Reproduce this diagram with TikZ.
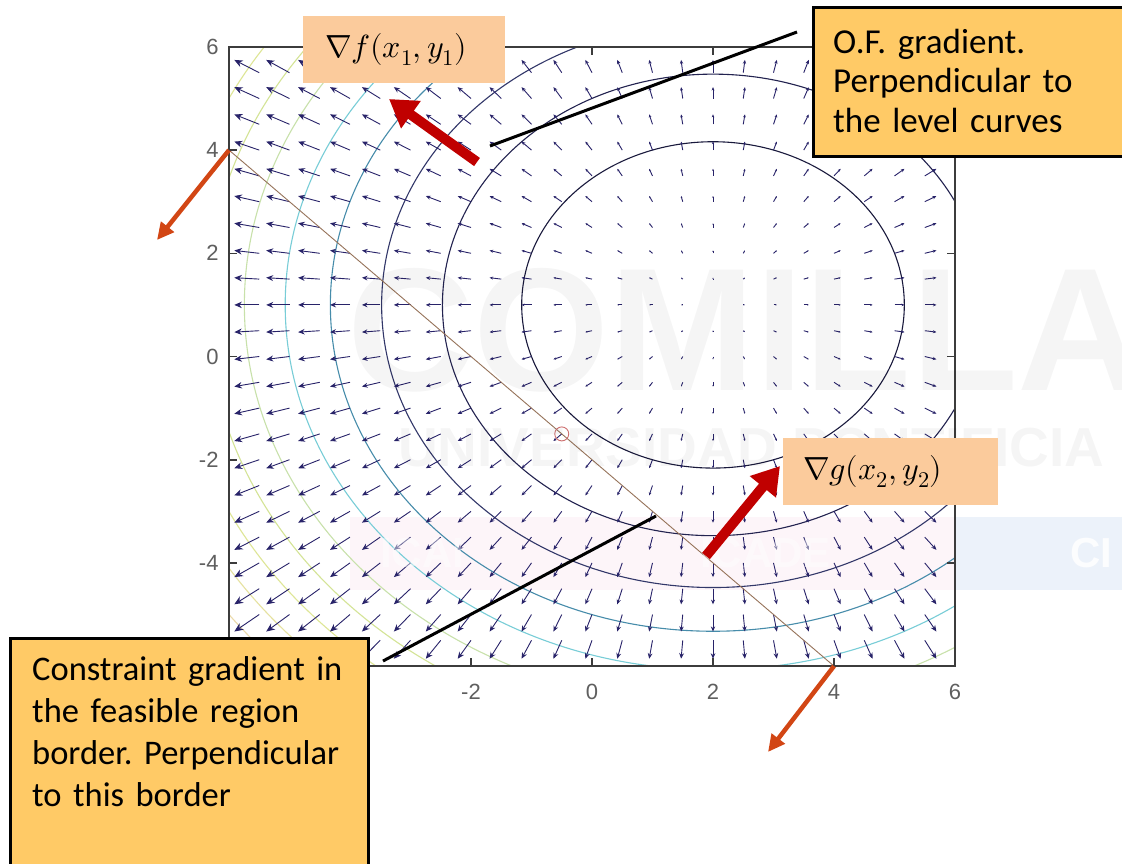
\documentclass[tikz,border=0pt]{standalone}
\usepackage{unicode-math}
\setmainfont{Carlito}
\setmathfont{Latin Modern Math}
\newfontfamily\axisfont{Liberation Sans}
\newfontfamily\wmfont{Liberation Sans}
\usetikzlibrary{arrows.meta}
\frenchspacing
\definecolor{peach}{RGB}{251,203,156}
\definecolor{boxorange}{RGB}{255,202,102}
\definecolor{gradred}{RGB}{192,0,0}
\definecolor{consorange}{RGB}{210,70,20}
\definecolor{quivcol}{RGB}{40,35,105}
\definecolor{axiscol}{RGB}{60,60,60}
\definecolor{tickcol}{RGB}{95,95,95}
\definecolor{linecol}{RGB}{150,115,90}
\definecolor{circcol}{RGB}{205,110,110}
\definecolor{cA}{RGB}{25,25,60}
\definecolor{cB}{RGB}{35,35,80}
\definecolor{cC}{RGB}{50,55,105}
\definecolor{cD}{RGB}{70,140,170}
\definecolor{cE}{RGB}{120,205,215}
\definecolor{cF}{RGB}{200,225,170}
\definecolor{cG}{RGB}{212,228,150}
\definecolor{cH}{RGB}{222,230,150}
\definecolor{cI}{RGB}{230,226,160}
\definecolor{cJ}{RGB}{235,218,170}
\definecolor{cK}{RGB}{240,215,190}
\definecolor{bandblue}{RGB}{236,242,250}
\definecolor{bandpink}{RGB}{253,245,249}
\begin{document}
\begin{tikzpicture}[x=1pt,y=-1pt,
  quiv/.style={draw=quivcol,line width=0.9pt},
  contour/.style={line width=1.1pt},
  axisline/.style={draw=axiscol,line width=1.6pt},
  ticklab/.style={text=tickcol,font=\axisfont\fontsize{22}{26}\selectfont,inner sep=0pt},
  peachbox/.style={fill=peach,draw=none,text width=#1,align=left,inner ysep=0pt,minimum height=67pt,font=\fontsize{32}{38}\selectfont},
  notebox/.style={fill=boxorange,draw=black,line width=3pt,inner sep=0pt},
  notetext/.style={anchor=base west,inner sep=0pt,align=left,text width=#1},
  conn/.style={draw=black,line width=3pt},
  redarrow/.style={draw=gradred,line width=10pt,-{Triangle[length=27pt,width=32pt]}},
  orangearrow/.style={draw=consorange,line width=4.5pt,-{Triangle[length=17pt,width=16pt]}},
  wm/.style={inner sep=0pt,anchor=base west}
]
\clip (0,0) rectangle (1122,863);
\fill[white] (0,0) rectangle (1122,863);

% faint watermark bands
\fill[bandpink] (350,517) rectangle (955,590);
\fill[bandblue] (955,517) rectangle (1122,590);

% ---------- plot ----------
\begin{scope}[shift={(592,356.5)},x=60.5pt,y=51.6pt]
  \begin{scope}
    \clip (-6,-6) rectangle (6,6);
    \foreach \lev/\col in {10/cA,20/cB,30/cC,40/cD,50/cE,60/cF,70/cG,80/cH,90/cI,100/cJ,110/cK}{
      \draw[contour,draw=\col] (2,1) circle [radius={sqrt(\lev)}];
    }
    \foreach \i in {-11,...,11}{
      \foreach \j in {-11,...,11}{
        \pgfmathsetmacro\xx{\i/2}
        \pgfmathsetmacro\yy{\j/2}
        \pgfmathsetmacro\dx{0.055*(\xx-2)}
        \pgfmathsetmacro\dy{0.055*(\yy-1)}
        \pgfmathsetmacro\L{sqrt((60.5*\dx)^2+(51.6*\dy)^2)}
        \pgfmathsetmacro\H{max(1.4,0.3*\L)}
        \pgfmathsetmacro\W{0.85*\H}
        \ifdim \L pt > 0.5pt
          \draw[quiv,-{Stealth[length=\H pt,width=\W pt]}] (\xx,\yy) -- ++(\dx,\dy);
        \fi
      }
    }
  \end{scope}
  % constraint border and optimum
  \coordinate (cl1) at (-6,4);
  \coordinate (cl2) at (4,-6);
  \draw[draw=linecol,line width=0.9pt] (cl1) -- (cl2);
  \draw[draw=circcol,line width=0.9pt] (-0.5,-1.5) circle [radius=7pt];
  % axes box
  \draw[axisline] (-6,-6) rectangle (6,6);
  \foreach \t in {-6,-4,...,6}{
    \draw[axisline] (\t,-6) -- ++(0,0.155);
    \draw[axisline] (\t,6) -- ++(0,-0.155);
    \draw[axisline] (-6,\t) -- ++(0.132,0);
    \draw[axisline] (6,\t) -- ++(-0.132,0);
  }
  \foreach \t in {-2,0,2,4,6}{
    \node[ticklab,anchor=center] at (\t,-6.5) {\t};
  }
  \foreach \t in {-4,-2,0,2,4,6}{
    \node[ticklab,anchor=east] at (-6.17,\t) {\t};
  }
\end{scope}

% watermark text
\node[wm,text=black,text opacity=0.04,font=\wmfont\bfseries\fontsize{175}{175}\selectfont] (wm1) at (347,390) {COMILLAS};
\node[wm,text=black,text opacity=0.04,font=\wmfont\bfseries\fontsize{55}{55}\selectfont] (wm2) at (398,466) {UNIVERSIDAD PONTIFICIA};
\node[wm,text=white,text opacity=0.45,font=\wmfont\bfseries\fontsize{42}{42}\selectfont] (wm3) at (380,567) {ICAI};
\node[wm,text=white,text opacity=0.45,font=\wmfont\bfseries\fontsize{42}{42}\selectfont] (wm4) at (700,567) {ICADE};
\node[wm,text=white,text opacity=0.85,font=\wmfont\bfseries\fontsize{42}{42}\selectfont] (wm5) at (1070,567) {CI};

% ---------- connectors ----------
\coordinate (l1a) at (490,146);
\coordinate (l1b) at (797,32);
\draw[conn] (l1a) -- (l1b);
\coordinate (l2a) at (383,661);
\coordinate (l2b) at (656,516);
\draw[conn] (l2a) -- (l2b);

\coordinate (fA) at (477,162);
\coordinate (fB) at (389,99);
\draw[redarrow] (fA) -- (fB);
\coordinate (gA) at (706,556);
\coordinate (gB) at (780,466);
\draw[redarrow] (gA) -- (gB);

\coordinate (oB1) at (157,240);
\draw[orangearrow] (cl1) -- (oB1);
\coordinate (oB2) at (768,752);
\draw[orangearrow] (cl2) -- (oB2);

% ---------- labels ----------
\node[peachbox=158pt,inner xsep=22pt,anchor=north west] (gradf) at (303,16) {$\nabla f(x_1,y_1)$};
\node[peachbox=175pt,inner xsep=20pt,anchor=north west] (gradg) at (783,438) {$\nabla g(x_2,y_2)$};

\node[notebox,anchor=north west,minimum width=340pt,minimum height=149pt] (ofbox) at (812,6) {};
\node[notetext=290pt,font=\fontsize{35}{39.5}\selectfont] (oftext) at (833,53)
  {O.F. gradient.\\Perpendicular to\\the level curves};

\node[notebox,anchor=north west,minimum width=358pt,minimum height=260pt] (consbox) at (9,637) {};
\node[notetext=330pt,font=\fontsize{34.5}{42.3}\selectfont] (constext) at (32,680)
  {Constraint gradient in\\the feasible region\\border. Perpendicular\\to this border};
\end{tikzpicture}
\end{document}
